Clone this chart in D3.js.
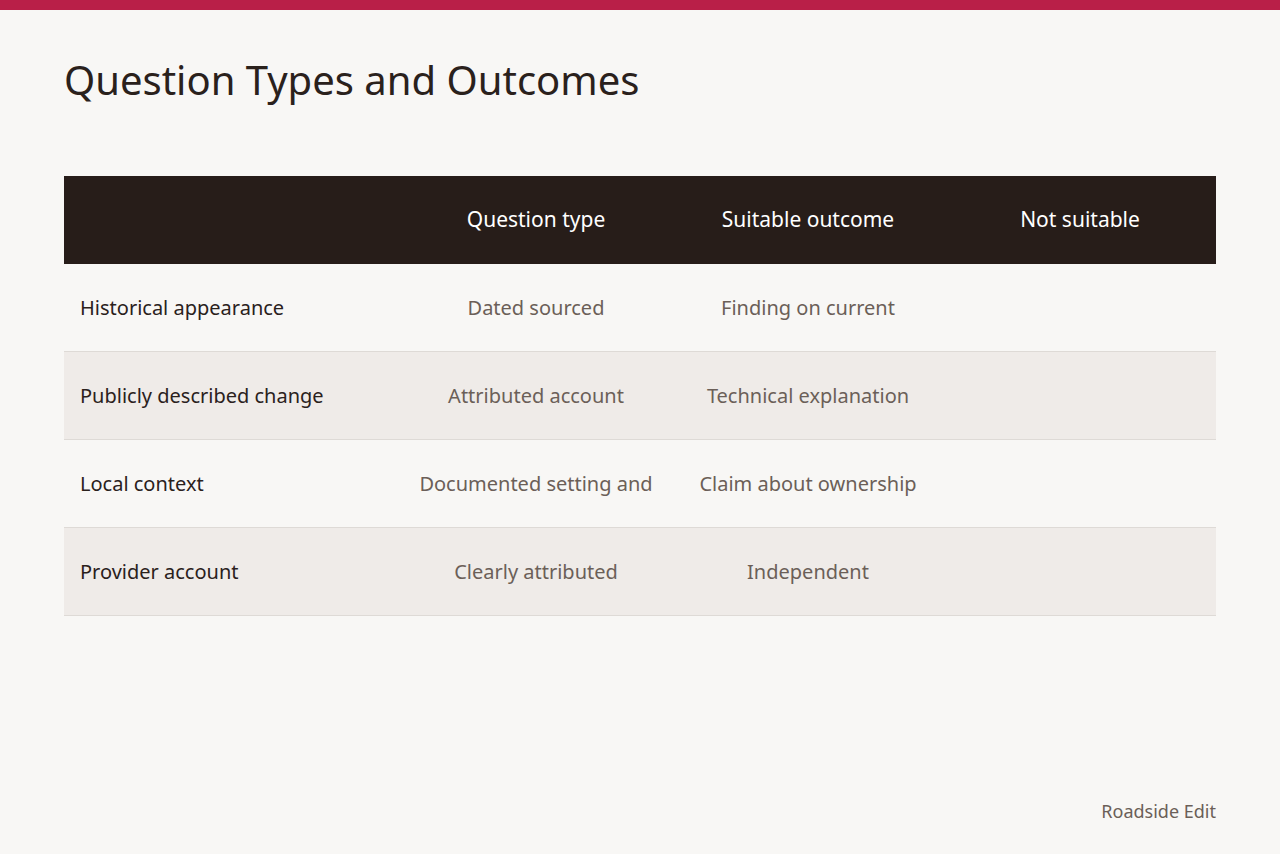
<!DOCTYPE html>
<html><head><meta charset="utf-8">
<script src="https://cdn.jsdelivr.net/npm/d3@7"></script>
<style>body{margin:0;background:#f8f7f5;}</style>
</head><body><svg id="c" width="1280" height="854"></svg>
<script>
const title = "Question Types and Outcomes";
const columns = ["", "Question type", "Suitable outcome", "Not suitable"];
const rowLabels = ["Historical appearance", "Publicly described change", "Local context", "Provider account"];
const questionType = ["Dated sourced", "Attributed account", "Documented setting and", "Clearly attributed"];
const suitableOutcome = ["Finding on current", "Technical explanation", "Claim about ownership", "Independent"];
const notSuitable = ["", "", "", ""];
const source = "Roadside Edit";

const font = "'Source Sans Pro','Noto Sans',sans-serif";
const svg = d3.select("#c");
svg.append("rect").attr("width",1280).attr("height",854).attr("fill","#f8f7f5");
svg.append("rect").attr("width",1280).attr("height",10).attr("fill","#b91f48");
svg.append("text").attr("x",64).attr("y",95).attr("font-family",font).attr("font-size",40)
  .attr("fill","#2a211c").text(title);

const x = d3.scaleBand().domain(d3.range(4)).range([64,1216]);
const colX = [80, 536, 808, 1080];
const y = d3.scaleBand().domain(d3.range(5)).range([176,616]);

svg.append("rect").attr("x",64).attr("y",y(0)).attr("width",1152).attr("height",y.bandwidth()).attr("fill","#271d19");
columns.forEach((c,i)=>{ if(!c) return;
  svg.append("text").attr("x",colX[i]).attr("y",y(0)+y.bandwidth()/2).attr("dy","0.35em")
    .attr("text-anchor","middle").attr("font-family",font).attr("font-size",21).attr("fill","#fff").text(c);
});
rowLabels.forEach((r,i)=>{
  const yy = y(i+1);
  svg.append("rect").attr("x",64).attr("y",yy).attr("width",1152).attr("height",y.bandwidth())
    .attr("fill", i%2 ? "#efebe8" : "#f8f7f5");
  svg.append("line").attr("x1",64).attr("x2",1216).attr("y1",yy+y.bandwidth()-0.5).attr("y2",yy+y.bandwidth()-0.5)
    .attr("stroke","#dedad6");
  const vals = [r, questionType[i], suitableOutcome[i], notSuitable[i]];
  vals.forEach((v,j)=>{
    svg.append("text").attr("x",colX[j]).attr("y",yy+y.bandwidth()/2).attr("dy","0.35em")
      .attr("text-anchor", j===0?"start":"middle").attr("font-family",font).attr("font-size",20)
      .attr("fill", j===0?"#2a211c":"#6b5f58").text(v);
  });
});
svg.append("text").attr("x",1216).attr("y",818).attr("text-anchor","end").attr("font-family",font)
  .attr("font-size",18).attr("fill","#6b5f58").text(source);
</script></body></html>
